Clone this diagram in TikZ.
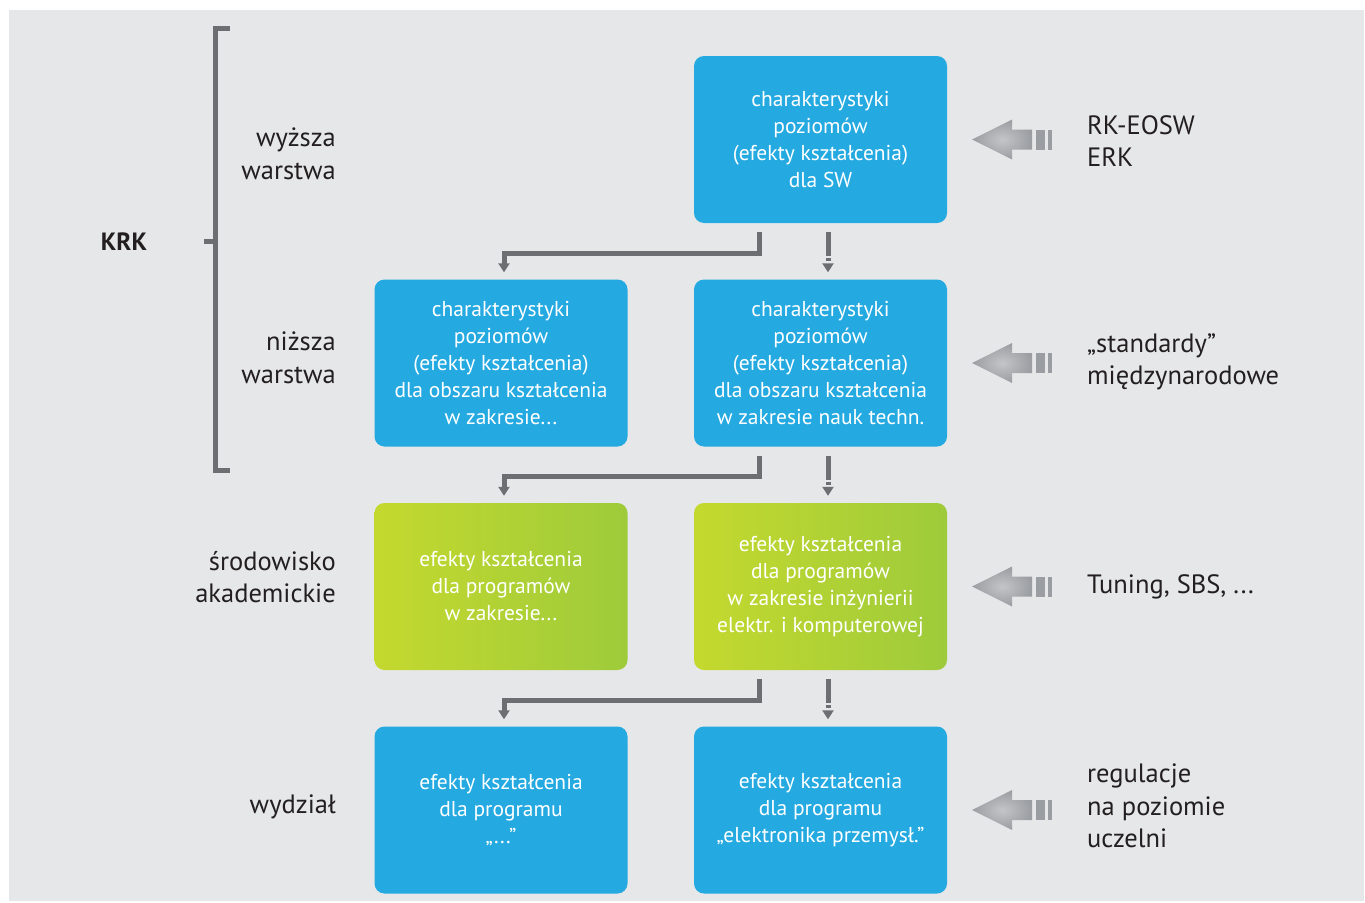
\documentclass[tikz,border=0pt]{standalone}
\usepackage{fontspec}
\setmainfont{PT Sans}
\usetikzlibrary{arrows.meta}

\definecolor{bgGray}{HTML}{E6E7E8}
\definecolor{boxBlue}{HTML}{24A9E1}
\definecolor{greenL}{HTML}{C4D92E}
\definecolor{greenR}{HTML}{9ECB3B}
\definecolor{lineGray}{HTML}{6D6E71}
\definecolor{txt}{HTML}{231F20}
\definecolor{arrLight}{HTML}{C3C5C8}
\definecolor{arrDark}{HTML}{9A9DA1}

\tikzset{
  box/.style={rounded corners=10pt, minimum width=253pt, minimum height=167pt, inner sep=0pt,
    align=center, text=white, font=\fontsize{21.5}{27}\selectfont,
    execute at begin node=\rule{0pt}{25pt}},
  bluebox/.style={box, fill=boxBlue},
  greenbox/.style={box, left color=greenL, right color=greenR},
  lbl/.style={text=txt, inner sep=0pt, font=\fontsize{26.5}{32.5}\selectfont},
  conn/.style={draw=lineGray, line width=5pt, -{Triangle[width=11pt,length=9pt]}},
  dconn/.style={conn, dash pattern=on 24pt off 2pt on 3pt off 3pt},
  bigarrow/.pic={
    \shade[inner color=arrLight, outer color=arrDark] (0,0) -- (40,-20) -- (40,-10) -- (60,-10)
      -- (60,10) -- (40,10) -- (40,20) -- cycle;
    \fill[arrDark] (64,-10) rectangle (73,10);
    \fill[arrDark] (76,-10) rectangle (80,10);
  }
}

\begin{document}
\begin{tikzpicture}[x=1pt, y=-1pt]
        \useasboundingbox (0,0) rectangle (1365,902);
        \fill[bgGray] (9,10) rectangle (1364,901);
        % boxes
        \node[bluebox] (a1) at (820.5,139.5) {charakterystyki\\poziomów\\(efekty kształcenia)\\dla SW};
        \node[bluebox] (b1) at (501,363) {charakterystyki\\poziomów\\(efekty kształcenia)\\dla obszaru kształcenia\\w zakresie...};
        \node[bluebox] (b2) at (820.5,363) {charakterystyki\\poziomów\\(efekty kształcenia)\\dla obszaru kształcenia\\w zakresie nauk techn.};
        \node[greenbox] (c1) at (501,586.5) {efekty kształcenia\\dla programów\\w zakresie...};
        \node[greenbox] (c2) at (820.5,586.5) {efekty kształcenia\\dla programów\\w zakresie inżynierii\\elektr. i komputerowej};
        \node[bluebox] (d1) at (501,810) {efekty kształcenia\\dla programu\\„...”};
        \node[bluebox] (d2) at (820.5,810) {efekty kształcenia\\dla programu\\„elektronika przemysł.”};
        % connectors
        \draw[conn] ([xshift=-61.5pt,yshift=-9pt]a1.south) -- ++(0,-21pt) -| ([xshift=3pt,yshift=7pt]b1.north);
        \draw[dconn] ([xshift=7.5pt,yshift=-9pt]a1.south) -- ([xshift=7.5pt,yshift=7pt]b2.north);
        \draw[conn] ([xshift=-61.5pt,yshift=-9pt]b2.south) -- ++(0,-21pt) -| ([xshift=3pt,yshift=7pt]c1.north);
        \draw[dconn] ([xshift=7.5pt,yshift=-9pt]b2.south) -- ([xshift=7.5pt,yshift=7pt]c2.north);
        \draw[conn] ([xshift=-61.5pt,yshift=-9pt]c2.south) -- ++(0,-21pt) -| ([xshift=3pt,yshift=7pt]d1.north);
        \draw[dconn] ([xshift=7.5pt,yshift=-9pt]c2.south) -- ([xshift=7.5pt,yshift=7pt]d2.north);
        % arrows from the right
        \pic at ([xshift=25pt]a1.east) {bigarrow};
        \pic at ([xshift=25pt]b2.east) {bigarrow};
        \pic at ([xshift=25pt]c2.east) {bigarrow};
        \pic at ([xshift=25pt]d2.east) {bigarrow};
        % right labels
        \node[lbl, anchor=west, align=left] (r1) at (1087,141) {RK-EOSW\\ERK};
        \node[lbl, anchor=west, align=left] (r2) at (1087,362) {„standardy”\\międzynarodowe};
        \node[lbl, anchor=west, align=left] (r3) at (1087,587) {Tuning, SBS, ...};
        \node[lbl, anchor=west, align=left] (r4) at (1087,806) {regulacje\\na poziomie\\uczelni};
        % left labels
        \node[lbl, anchor=east, align=right] (l1) at (336,154) {wyższa\\warstwa};
        \node[lbl, anchor=east, align=right] (l2) at (336,358) {niższa\\warstwa};
        \node[lbl, anchor=east, align=right] (l3) at (336,577) {środowisko\\akademickie};
        \node[lbl, anchor=east, align=right] (l4) at (336,807) {wydział};
        \node[lbl, font=\fontsize{25}{32.5}\selectfont\bfseries] (krk) at (124,242) {KRK};
        % bracket
        \draw[lineGray, line width=5pt] (230,28) -- (215.5,28) -- (215.5,470) -- (230,470);
        \draw[lineGray, line width=5pt] (215.5,241) -- (204,241);
      \end{tikzpicture}
\end{document}
